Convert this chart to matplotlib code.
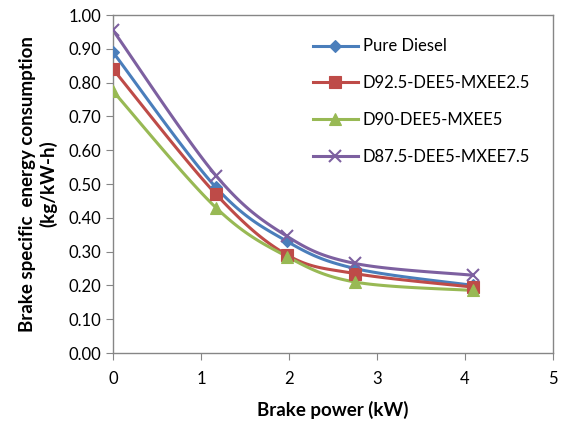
import numpy as np
import matplotlib
matplotlib.use("Agg")
import matplotlib.pyplot as plt
from matplotlib.lines import Line2D

plt.rcParams['font.family'] = ['Lato', 'DejaVu Sans']

power = [0.0, 1.17, 1.98, 2.75, 4.09]
pure_diesel = [0.89, 0.49, 0.33, 0.25, 0.20]
d925 = [0.84, 0.47, 0.29, 0.235, 0.195]
d90 = [0.775, 0.43, 0.285, 0.21, 0.185]
d875 = [0.955, 0.525, 0.345, 0.265, 0.23]

labels = ["Pure Diesel", "D92.5-DEE5-MXEE2.5", "D90-DEE5-MXEE5", "D87.5-DEE5-MXEE7.5"]
colors = ["#4a7ebb", "#be4b48", "#98b954", "#7d60a0"]
markers = ["D", "s", "^", "x"]
msizes = [6, 8, 8, 8]


def smooth(x, y, n=30):
    # excel-like bezier smoothing through the points
    x = np.asarray(x, float)
    y = np.asarray(y, float)
    pts = np.column_stack([x, y])
    out = []
    for i in range(len(pts) - 1):
        p0 = pts[i - 1] if i > 0 else pts[i]
        p1 = pts[i]
        p2 = pts[i + 1]
        p3 = pts[i + 2] if i + 2 < len(pts) else pts[i + 1]
        c1 = p1 + (p2 - p0) / 6
        c2 = p2 - (p3 - p1) / 6
        t = np.linspace(0, 1, n)[:, None]
        seg = ((1 - t) ** 3) * p1 + 3 * ((1 - t) ** 2) * t * c1 + 3 * (1 - t) * t ** 2 * c2 + t ** 3 * p2
        out.append(seg)
    s = np.vstack(out)
    return s[:, 0], s[:, 1]


fig = plt.figure(figsize=(5.61, 4.25), dpi=100)
ax = fig.add_axes([0.2014, 0.1694, 0.7843, 0.7953])

handles = []
for ys, lab, c, m, ms in zip([pure_diesel, d925, d90, d875], labels, colors, markers, msizes):
    sx, sy = smooth(power, ys)
    ax.plot(sx, sy, color=c, lw=2.2, zorder=2)
    ax.plot(power, ys, ls='none', marker=m, color=c, ms=ms, mew=1.5 if m == 'x' else 0.8, zorder=3)
    handles.append(Line2D([], [], color=c, lw=2.2, marker=m, ms=ms, mew=1.5 if m == 'x' else 0.8))

ax.set_xlim(0, 5)
ax.set_ylim(0, 1.0)
ax.set_xticks(range(6))
ax.set_yticks(np.arange(0, 1.01, 0.1))
ax.set_yticklabels([f"{v:.2f}" for v in np.arange(0, 1.01, 0.1)])
ax.tick_params(axis='both', labelsize=12, color='#868686', direction='out', length=5)
ax.tick_params(axis='x', pad=8)
for sp in ax.spines.values():
    sp.set_color('#868686')
    sp.set_linewidth(1)

ax.set_xlabel("Brake power (kW)", fontsize=13.5, fontweight='bold', labelpad=10)
ax.set_ylabel("Brake specific  energy consumption\n(kg/kW-h)", fontsize=13.5, fontweight='bold', labelpad=8)

ax.legend(handles, labels, loc='upper left', bbox_to_anchor=(0.42, 0.975), frameon=False,
          fontsize=12, handlelength=2.7, labelspacing=1.25, handletextpad=0.3)

fig.savefig("out.png", dpi=100)
